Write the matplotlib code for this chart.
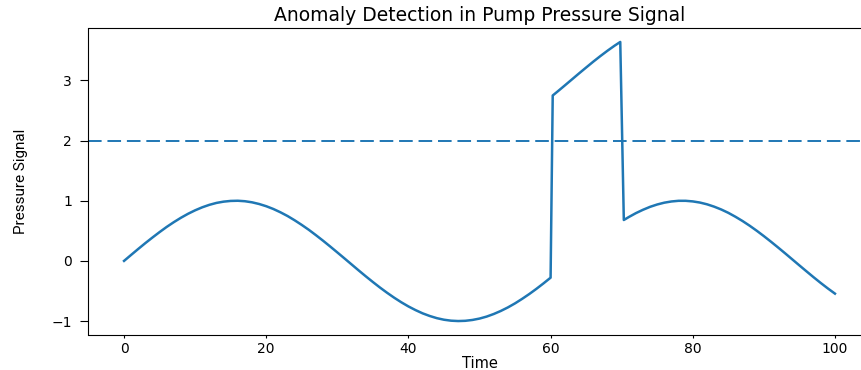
import numpy as np
import matplotlib
matplotlib.use("Agg")
import matplotlib.pyplot as plt

# pressure signal (anomaly between t=60 and t=70)
time = [0, 1, 2, 3, 4, 5, 6, 7, 8, 9, 10, 11, 12, 13, 14, 15, 16, 17, 18, 19,
        20, 21, 22, 23, 24, 25, 26, 27, 28, 29, 30, 31, 32, 33, 34, 35, 36, 37, 38, 39,
        40, 41, 42, 43, 44, 45, 46, 47, 48, 49, 50, 51, 52, 53, 54, 55, 56, 57, 58, 59,
        60, 60.3, 61, 62, 63, 64, 65, 66, 67, 68, 69, 69.8, 70.3, 71, 72, 73, 74, 75, 76, 77,
        78, 79, 80, 81, 82, 83, 84, 85, 86, 87, 88, 89, 90, 91, 92, 93, 94, 95, 96, 97,
        98, 99, 100]
signal = [0.000, 0.100, 0.199, 0.296, 0.389, 0.479, 0.565, 0.644, 0.717, 0.783,
          0.841, 0.891, 0.932, 0.964, 0.985, 0.997, 1.000, 0.992, 0.974, 0.946,
          0.909, 0.863, 0.808, 0.746, 0.675, 0.598, 0.516, 0.427, 0.335, 0.239,
          0.141, 0.042, -0.058, -0.158, -0.256, -0.351, -0.443, -0.530, -0.612, -0.688,
          -0.757, -0.818, -0.872, -0.916, -0.952, -0.978, -0.994, -1.000, -0.996, -0.982,
          -0.959, -0.926, -0.883, -0.832, -0.773, -0.706, -0.631, -0.551, -0.465, -0.374,
          -0.279, 2.750, 2.818, 2.917, 3.017, 3.117, 3.215, 3.312, 3.405, 3.494,
          3.578, 3.640, 0.680, 0.729, 0.794, 0.850, 0.899, 0.938, 0.968, 0.988,
          0.999, 0.999, 0.989, 0.970, 0.941, 0.902, 0.855, 0.799, 0.734, 0.663,
          0.585, 0.501, 0.412, 0.319, 0.223, 0.125, 0.025, -0.075, -0.174, -0.272,
          -0.367, -0.458, -0.544]
threshold = 2

fig = plt.figure(figsize=(8.62, 3.70), dpi=100)
ax = fig.add_axes([88.5 / 862, 35 / 370, 782 / 862, 307 / 370])

ax.plot(time, signal, color="#1f77b4", linewidth=1.8)
ax.axhline(threshold, color="#1f77b4", linewidth=1.4, linestyle=(0, (7, 3)))

ax.spines["right"].set_visible(False)  # falls just outside the cropped picture

ax.set_xticks([0, 20, 40, 60, 80, 100])
ax.set_yticks([-1, 0, 1, 2, 3])
ax.tick_params(axis="x", length=2, pad=3, labelsize=10)
ax.tick_params(axis="y", length=6, pad=6, labelsize=10)

ax.set_title("Anomaly Detection in Pump Pressure Signal", fontsize=13.5, pad=5)
ax.set_xlabel("Time", fontsize=10.5, labelpad=0)
ax.set_ylabel("Pressure Signal", fontsize=11,
              family=["Liberation Sans Narrow", "Roboto", "DejaVu Sans"])
ax.yaxis.set_label_coords(-0.077, 0.5)

plt.savefig("out.png", dpi=100)
